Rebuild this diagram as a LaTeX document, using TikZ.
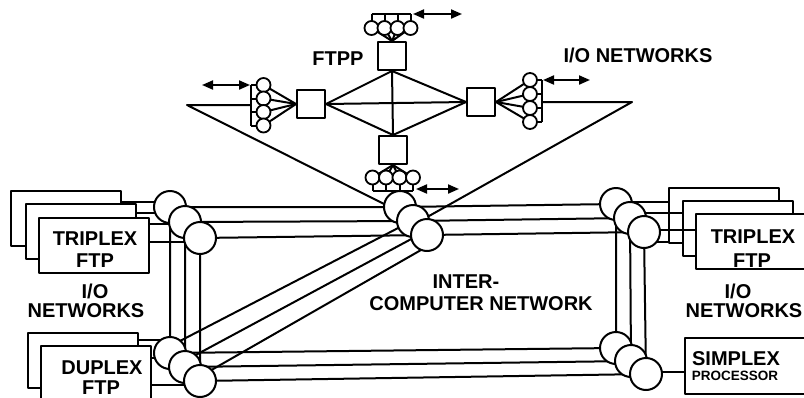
\documentclass[tikz,border=0pt]{standalone}
\usepackage{fontspec}
\setmainfont{Liberation Sans}
\usetikzlibrary{arrows.meta,calc}
\begin{document}
\begin{tikzpicture}[x=1pt,y=-1pt,line width=2pt,line join=round,
  lab/.style={font=\fontsize{20}{20}\selectfont\bfseries,inner sep=0pt,anchor=base},
  smalllab/.style={font=\fontsize{13.5}{14}\selectfont\bfseries,inner sep=0pt,anchor=base},
  ring/.style={draw,fill=white,circle,minimum size=32pt,inner sep=0pt},
  io/.style={draw,fill=white,circle,minimum size=14pt,inner sep=0pt,line width=1.8pt},
  proc/.style={draw,fill=white,minimum size=28pt,inner sep=0pt},
  unit/.style={draw,fill=white,minimum width=110pt,minimum height=55pt,inner sep=0pt,anchor=north west},
  dbl/.style={{Triangle[length=11pt,width=9pt]}-{Triangle[length=11pt,width=9pt]}}]
\useasboundingbox (0,0) rectangle (804,397);

% ---------------- FTPP: four processors, fully connected ----------------
\node[proc] (sqT) at (392,56) {};
\node[proc] (sqL) at (311,104) {};
\node[proc] (sqR) at (481,102) {};
\node[proc] (sqB) at (393,150) {};
\draw (sqT.south) -- (sqL.east) -- (sqB.north) -- (sqR.west) -- cycle;
\draw (sqT.south) -- (sqB.north);
\draw (sqL.east) -- (sqR.west);

% I/O clusters of each processor: fan lines, bar, circles
\foreach \i/\x in {1/371.5,2/384.5,3/397.5,4/410.5}{
  \draw (\x,28) -- (sqT.north);
  \draw (\x,14) -- (\x,22);
  \node[io] (T\i) at (\x,28) {};
}
\draw (T1 |- 0,14) -- (T4 |- 0,14);
\coordinate (arTa) at (413,14);
\coordinate (arTb) at (462,14);
\draw[dbl] (arTa) -- (arTb);

\foreach \i/\x in {1/372.5,2/386,3/399.5,4/413}{
  \draw (\x,177.5) -- (sqB.south);
  \draw (\x,191) -- (\x,184);
  \node[io] (B\i) at (\x,177.5) {};
}
\draw (B1 |- 0,191) -- (B4 |- 0,191);
\coordinate (arBa) at (416,189);
\coordinate (arBb) at (459,189);
\draw[dbl] (arBa) -- (arBb);

\foreach \i/\y in {1/85,2/98.5,3/112,4/125.5}{
  \draw (263.5,\y) -- (sqL.west);
  \draw (251,\y) -- (257,\y);
  \node[io] (L\i) at (263.5,\y) {};
}
\draw (251,85) -- (251,125.5);
\coordinate (arLa) at (250,85);
\coordinate (arLb) at (202,85);
\draw[dbl] (arLa) -- (arLb);

\foreach \i/\y in {1/80,2/94,3/108,4/122}{
  \draw (530,\y) -- (sqR.east);
  \draw (542,\y) -- (536,\y);
  \node[io] (R\i) at (530,\y) {};
}
\draw (542,80) -- (542,122);
\coordinate (arRa) at (543,80);
\coordinate (arRb) at (590,80);
\draw[dbl] (arRa) -- (arRb);

\node[lab] (ftpp) at (338,65) {FTPP};
\node[lab] (ionT) at (638,62) {I/O NETWORKS};

% ---------------- Inter-computer network: three rings ----------------
\foreach \k/\tlx/\tly/\tcx/\tcy/\trx/\try/\brx/\bry/\blx/\bly in
  {0/170/207/400/207/616/204/616/348/170/353,
   1/185/222/413/221/630/218/631/361/185/367,
   2/200/238/427/235/644/232/646/374/200/381}{
  \coordinate (TL\k) at (\tlx,\tly);
  \coordinate (TC\k) at (\tcx,\tcy);
  \coordinate (TR\k) at (\trx,\try);
  \coordinate (BR\k) at (\brx,\bry);
  \coordinate (BL\k) at (\blx,\bly);
}

% FTPP links into the network
\coordinate (triL) at (187,105);
\coordinate (triR) at (632,102);
\coordinate (triLe) at (400,212);
\coordinate (triRe) at (413,225);
\draw (251,105) -- (triL) -- (triLe);
\draw (542,102) -- (triR) -- (triRe);

% computer units on the left
\node[unit] (lt1) at (10,190) {};
\node[unit] (lt2) at (25,203) {};
\node[unit] (lt3) at (38,217) {};
\node[unit] (ld1) at (27,332) {};
\node[unit] (ld2) at (40,345) {};
% computer units on the right
\node[unit] (rt1) at (668,187) {};
\node[unit] (rt2) at (682,200) {};
\node[unit] (rt3) at (695,213) {};
\node[draw,fill=white,minimum width=120pt,minimum height=56pt,inner sep=0pt,anchor=north west] (sp) at (684,337) {};

% ring paths and cross links
\foreach \k in {0,1,2}
  \draw (TL\k) -- (TC\k) -- (TR\k) -- (BR\k) -- (BL\k) -- cycle;
\coordinate (d0a) at (402,226); \coordinate (d0b) at (178,342);
\coordinate (d1a) at (415,237); \coordinate (d1b) at (192,357);
\coordinate (d2a) at (428,246); \coordinate (d2b) at (208,372);
\draw (d0a) -- (d0b);
\draw (d1a) -- (d1b);
\draw (d2a) -- (d2b);

% unit connections
\draw (lt1.east |- 0,202) -- (TL0 |- 0,202);
\draw (lt2.east |- 0,213) -- (TL0 |- 0,213);
\draw (lt3.east |- 0,224) -- (TL1 |- 0,224);
\draw (lt3.east |- 0,242) -- (TL2 |- 0,242);
\draw (ld1.east |- 0,340) -- (BL0 |- 0,340);
\draw (ld2.east |- 0,358) -- (BL1 |- 0,358);
\draw (ld2.east |- 0,385) -- (BL2 |- 0,385);
\draw (TR0 |- 0,202) -- (rt1.west |- 0,202);
\draw (TR1 |- 0,213) -- (rt2.west |- 0,213);
\draw (TR2 |- 0,230) -- (rt3.west |- 0,230);
\draw (TR2 |- 0,242) -- (rt1.west |- 0,242);
\draw (BR2 |- 0,372) -- (sp.west |- 0,372);

% ring interfaces
\foreach \k in {0,1,2}{
  \foreach \p in {TL,TC,TR,BR,BL}
    \node[ring] (c\p\k) at (\p\k) {};
}

% ---------------- labels ----------------
\node[lab] (ltx) at (95,245) {TRIPLEX};
\node[lab] (ltf) at (95,267) {FTP};
\node[lab] (lio) at (95,298) {I/O};
\node[lab] (lnw) at (86,317) {NETWORKS};
\node[lab] (ldx) at (102,374) {DUPLEX};
\node[lab] (ldf) at (101,394) {FTP};
\node[lab] (rtx) at (753,243) {TRIPLEX};
\node[lab] (rtf) at (752,267) {FTP};
\node[lab] (rio) at (738,298) {I/O};
\node[lab] (rnw) at (744,317) {NETWORKS};
\node[lab] (spx) at (736,365) {SIMPLEX};
\node[smalllab] (spp) at (735,380) {PROCESSOR};
\node[lab] (icn1) at (466,288) {INTER-};
\node[lab] (icn2) at (481,310) {COMPUTER NETWORK};
\end{tikzpicture}
\end{document}
